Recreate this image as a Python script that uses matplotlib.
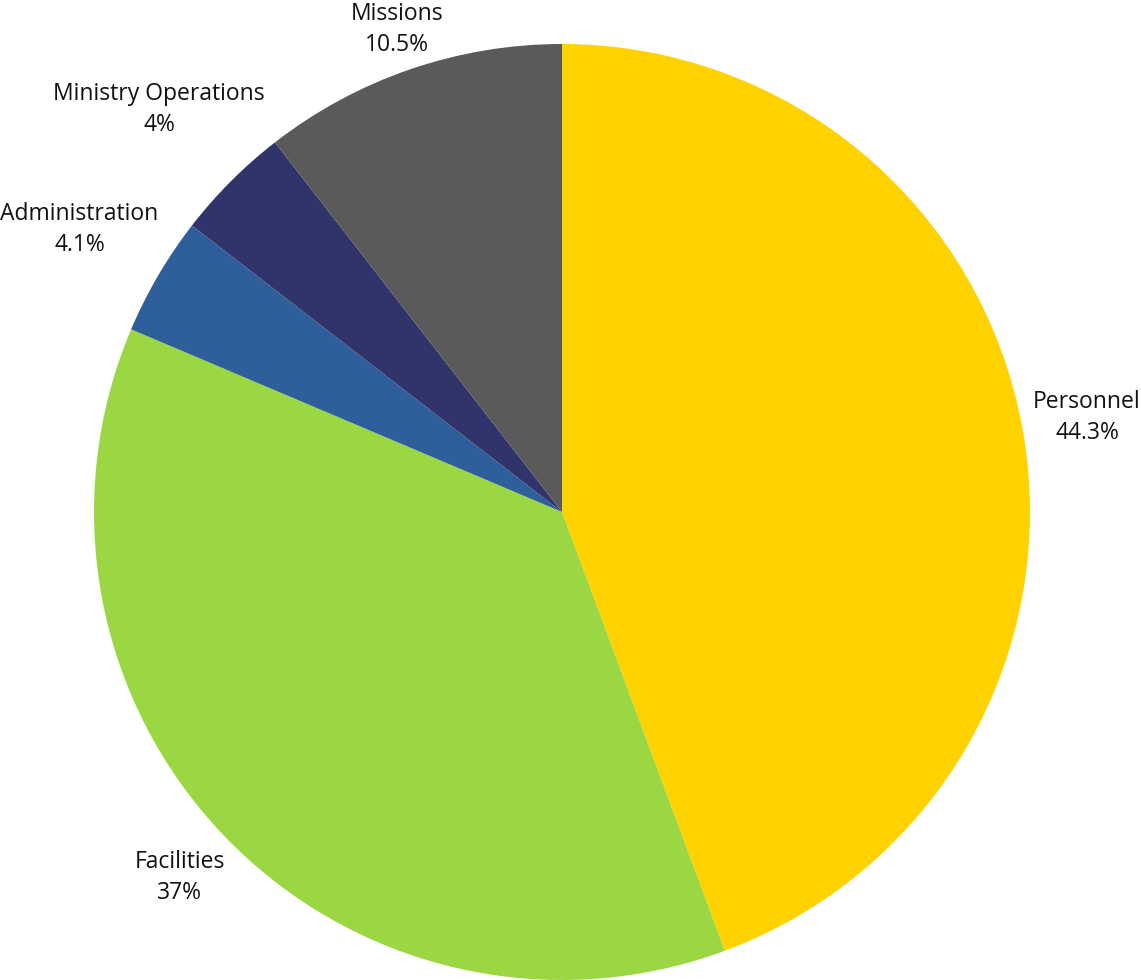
import matplotlib
matplotlib.use('Agg')
from matplotlib import pyplot as plt
import numpy as np

# данные
categories = ['Personnel', 'Facilities', 'Administration', 'Ministry Operations', 'Missions']
shares = [44.3, 37, 4.1, 4, 10.5]
pct_labels = ['44.3%', '37%', '4.1%', '4%', '10.5%']

colors = ['#FFD200', '#9AD743', '#2F5F9B', '#31346B', '#5A5A5A']
label_dist = [1.14, 1.13, 1.195, 1.217, 1.09]

plt.rcParams['font.family'] = ['Open Sans', 'DejaVu Sans']

fig = plt.figure(figsize=(11.41, 9.80), dpi=100)
W, H = 1141, 980
cx, cy, r = 562, 512, 468
ax = fig.add_axes([(cx - r) / W, (H - cy - r) / H, 2 * r / W, 2 * r / H])

wedges, _ = ax.pie(shares, colors=colors, startangle=90, counterclock=False,
                   radius=1, wedgeprops=dict(linewidth=0))
ax.set_xlim(-1, 1)
ax.set_ylim(-1, 1)
ax.set_aspect('equal')
ax.axis('off')

# подписи секторов
for w, name, pct, d in zip(wedges, categories, pct_labels, label_dist):
    ang = np.deg2rad((w.theta1 + w.theta2) / 2)
    ax.text(d * np.cos(ang), d * np.sin(ang), name + '\n' + pct,
            ha='center', va='center', fontsize=16.5, color='#111111',
            linespacing=1.38, clip_on=False)

fig.savefig('out.png', dpi=100)
